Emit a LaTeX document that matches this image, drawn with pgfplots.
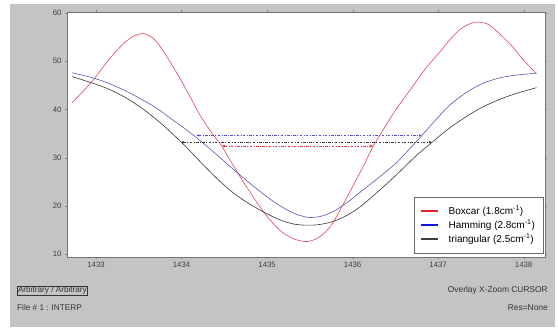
\documentclass[border=0pt]{standalone}
\usepackage{fontspec}
\setmainfont{Liberation Sans}
\usepackage{pgfplots}
\pgfplotsset{compat=1.18}
\usetikzlibrary{arrows.meta}
\definecolor{panel}{RGB}{196,196,196}
\definecolor{cred}{RGB}{226,70,90}
\definecolor{cblue}{RGB}{88,88,176}
\definecolor{cblack}{RGB}{56,56,56}
\definecolor{lred}{RGB}{235,30,50}
\definecolor{lblue}{RGB}{20,20,230}
\definecolor{lblack}{RGB}{60,66,66}
\definecolor{kblue}{RGB}{80,80,220}
\definecolor{kred}{RGB}{225,50,60}
\begin{document}
\begin{tikzpicture}[x=1pt,y=1pt]
\fill[white] (0,0) rectangle (558,331);
\fill[panel] (10,4) rectangle (555,327);
\begin{axis}[
  at={(67pt,74pt)}, anchor=south west,
  scale only axis, width=478pt, height=245pt,
  xmin=1432.66, xmax=1438.25, ymin=9.4, ymax=60.2,
  xtick={1433,1434,1435,1436,1437,1438},
  ytick={10,20,30,40,50,60},
  /pgf/number format/assume math mode=true,
  /pgf/number format/1000 sep={},
  tick label style={font=\fontsize{7.8}{8}\selectfont, text=black!75},
  tick align=outside, major tick length=2pt,
  tick style={black!50},
  axis background/.style={fill=white},
  axis line style={draw=black!55, line width=0.8pt},
  legend style={at={(rel axis cs:0.996,0.245)}, anchor=north east,
    font=\fontsize{10}{10.5}\selectfont, draw=black!60,
    inner xsep=6pt, inner ysep=7pt, row sep=0pt},
  legend cell align=left,
  legend image code/.code={\draw[#1] (0pt,0pt) -- (17pt,0pt);},
]
\addlegendimage{color=lred, line width=1.3pt}
\addlegendentry{\hspace{8pt}Boxcar (1.8cm\textsuperscript{-1})}
\addlegendimage{color=lblue, line width=1.3pt}
\addlegendentry{\hspace{8pt}Hamming (2.8cm\textsuperscript{-1})}
\addlegendimage{color=lblack, line width=1.3pt}
\addlegendentry{\hspace{8pt}triangular (2.5cm\textsuperscript{-1})\hspace{2pt}}

% Boxcar
\addplot[cred, line width=0.6pt, smooth, forget plot] coordinates {
(1432.72,41.4) (1432.85,43.8) (1432.98,46.4) (1433.10,49.2) (1433.22,51.8)
(1433.35,54.1) (1433.45,55.3) (1433.55,55.7) (1433.65,55.0) (1433.74,53.3)
(1433.85,50.3) (1433.97,46.8) (1434.10,42.6) (1434.20,39.3) (1434.30,36.5)
(1434.40,34.0) (1434.47,32.4) (1434.59,28.8) (1434.71,25.3) (1434.84,21.8)
(1434.96,18.7) (1435.07,16.4) (1435.18,14.5) (1435.32,13.1) (1435.46,12.6)
(1435.58,13.2) (1435.69,14.7) (1435.77,16.5) (1435.84,18.7) (1435.92,21.3)
(1436.00,24.0) (1436.12,28.0) (1436.24,32.4) (1436.31,34.4) (1436.50,39.8)
(1436.70,44.7) (1436.85,48.4) (1437.01,51.7) (1437.13,54.3) (1437.25,56.5)
(1437.35,57.6) (1437.44,58.1) (1437.52,58.0) (1437.60,57.5) (1437.73,55.5)
(1437.87,53.0) (1438.00,50.2) (1438.15,47.4)
};
% Hamming
\addplot[cblue, line width=0.6pt, smooth, forget plot] coordinates {
(1432.72,47.6) (1432.95,46.6) (1433.15,45.4) (1433.35,43.8) (1433.50,42.4)
(1433.65,40.9) (1433.77,39.5) (1433.89,37.9) (1434.00,36.5) (1434.17,34.2)
(1434.30,32.3) (1434.45,30.0) (1434.59,27.8) (1434.79,24.8) (1434.99,22.0)
(1435.10,20.6) (1435.22,19.3) (1435.35,18.2) (1435.49,17.6) (1435.62,17.8)
(1435.76,18.7) (1435.92,20.5) (1436.08,22.7) (1436.30,25.8) (1436.51,28.9)
(1436.66,31.7) (1436.81,34.6) (1436.93,37.0) (1437.13,40.8) (1437.33,43.5)
(1437.51,45.3) (1437.71,46.5) (1437.91,47.1) (1438.15,47.5)
};
% triangular
\addplot[cblack, line width=0.6pt, smooth, forget plot] coordinates {
(1432.72,46.8) (1432.95,45.5) (1433.15,44.2) (1433.35,42.4) (1433.54,40.2)
(1433.74,37.4) (1433.89,35.0) (1433.99,33.3) (1434.05,32.3) (1434.20,29.5)
(1434.40,25.9) (1434.59,22.9) (1434.75,20.9) (1434.91,19.2) (1435.05,17.9)
(1435.18,16.9) (1435.32,16.2) (1435.46,16.0) (1435.60,16.1) (1435.76,16.7)
(1435.92,17.9) (1436.08,19.7) (1436.30,23.0) (1436.51,26.4) (1436.58,27.6)
(1436.75,30.5) (1436.93,33.2) (1437.13,36.1) (1437.33,38.5) (1437.51,40.4)
(1437.71,42.0) (1437.91,43.3) (1438.15,44.5)
};
% cursors
\addplot[kblue, line width=0.5pt, dash pattern=on 2.5pt off 1.5pt on 0.8pt off 1.5pt,
  {Latex[length=3pt,width=2.5pt]}-{Latex[length=3pt,width=2.5pt]}, forget plot]
  coordinates {(1434.17,34.6) (1436.81,34.6)};
\addplot[black!80, line width=0.5pt, dash pattern=on 2.5pt off 1.5pt on 0.8pt off 1.5pt,
  {Latex[length=3pt,width=2.5pt]}-{Latex[length=3pt,width=2.5pt]}, forget plot]
  coordinates {(1433.99,33.2) (1436.93,33.2)};
\addplot[kred, line width=0.5pt, dash pattern=on 2.5pt off 1.5pt on 0.8pt off 1.5pt,
  {Latex[length=3pt,width=2.5pt]}-{Latex[length=3pt,width=2.5pt]}, forget plot]
  coordinates {(1434.47,32.4) (1436.24,32.4)};
\end{axis}
\node[anchor=base west, draw=black!80, line width=0.4pt, inner sep=0.8pt,
  font=\fontsize{8.2}{9}\selectfont, text=black!80] at (17,38) {Arbitrary / Arbitrary};
\node[anchor=base west, inner sep=0pt, font=\fontsize{8.2}{9}\selectfont, text=black!80]
  at (17,20) {File \# 1 : INTERP};
\node[anchor=base east, inner sep=0pt, font=\fontsize{8.4}{9}\selectfont, text=black!80]
  at (548,38) {Overlay X-Zoom CURSOR};
\node[anchor=base east, inner sep=0pt, font=\fontsize{8.4}{9}\selectfont, text=black!80]
  at (548,20) {Res=None};
\end{tikzpicture}
\end{document}
